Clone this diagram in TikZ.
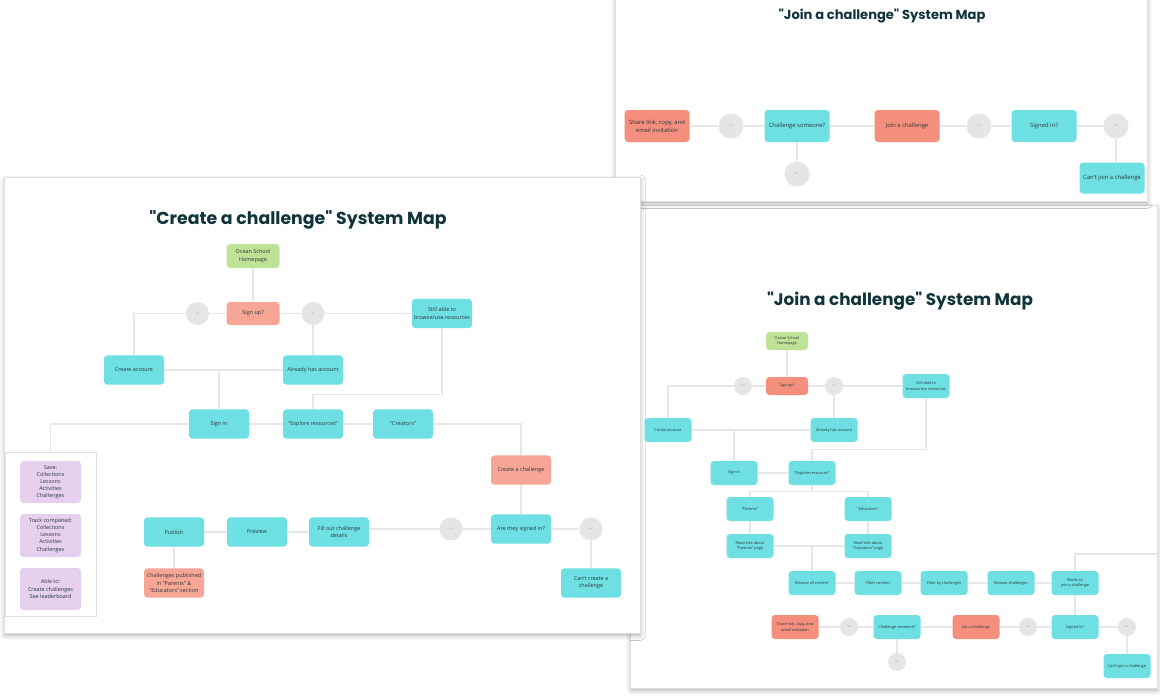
\documentclass[tikz,border=0pt]{standalone}
\usepackage{fontspec}
\setmainfont{Open Sans}
\newfontfamily\titlefont{Poppins}
\usetikzlibrary{shadows.blur}

\definecolor{tealbox}{RGB}{110,224,227}
\definecolor{salmonlt}{RGB}{247,166,150}
\definecolor{salmondk}{RGB}{245,143,125}
\definecolor{greenbox}{RGB}{190,227,150}
\definecolor{purplebox}{RGB}{230,208,238}
\definecolor{yesnogray}{RGB}{229,229,229}
\definecolor{yesnotext}{RGB}{150,150,150}
\definecolor{wireline}{RGB}{231,231,231}
\definecolor{cardline}{RGB}{222,222,222}
\definecolor{titleteal}{RGB}{16,52,60}
\definecolor{boxtext}{RGB}{40,55,60}

\newcommand\btxt{\fontsize{4.1}{5.4}\selectfont}
\newcommand\ctxt{\fontsize{2.9}{3.9}\selectfont}
\newcommand\atxt{\fontsize{4.4}{5.8}\selectfont}
\newcommand\yntxt{\fontsize{1.7}{2}\selectfont}

\pgfdeclarelayer{panels}
\pgfdeclarelayer{wires}
\pgfsetlayers{panels,wires,main}

\tikzset{
  card/.style={fill=white, draw=cardline, line width=0.5pt,
    blur shadow={shadow xshift=0.4pt, shadow yshift=-2pt, shadow blur radius=3.5pt, shadow opacity=30}},
  wire/.style={draw=wireline, line width=0.8pt},
  flowbox/.style={rounded corners=2.6pt, align=center, text=boxtext, inner sep=0.8pt},
  bnode/.style={flowbox, font=\btxt, minimum width=45pt, minimum height=22pt},
  cnode/.style={flowbox, font=\ctxt, minimum width=35.25pt, minimum height=18pt},
  anode/.style={flowbox, font=\atxt, minimum width=48.75pt, minimum height=24pt},
  yesno/.style={circle, fill=yesnogray, text=yesnotext, font=\yntxt, inner sep=0pt},
  maptitle/.style={text=titleteal, inner sep=0pt},
}

\begin{document}
\begin{tikzpicture}[x=0.75pt,y=0.75pt,yscale=-1,xscale=1]
\useasboundingbox (0,0) rectangle (1160,696);

% cards, back to front
\begin{pgfonlayer}{panels}
\draw[card] (630,205) rectangle (1157,688);
\draw[card] (615,-6) rectangle (1147,201);
\draw[card] (4,177) rectangle (640,633);
\end{pgfonlayer}

%%%%% "Create a challenge" map
\node[maptitle, font={\titlefont\bfseries\fontsize{13}{15}\selectfont}] (b-title) at (298,220) {"Create a challenge" System Map};

\node[bnode, fill=greenbox, minimum width=39.75pt, minimum height=18pt] (b-home) at (253,256) {Ocean School\\Homepage};
\node[bnode, fill=salmonlt, minimum width=39.75pt, minimum height=17.25pt] (b-signup) at (253,313.5) {Sign up?};
\node[yesno, minimum size=17.25pt] (b-yes) at (197.5,313.5) {Yes};
\node[yesno, minimum size=17.25pt] (b-no) at (313,313.5) {No};
\node[bnode, fill=tealbox] (b-still) at (442,313.5) {Still able to\\browse/use resources};
\node[bnode, fill=tealbox] (b-create) at (134,370) {Create account};
\node[bnode, fill=tealbox] (b-has) at (313,370) {Already has account};
\node[bnode, fill=tealbox] (b-signin) at (219,424) {Sign in};
\node[bnode, fill=tealbox] (b-explore) at (313,424) {"Explore resources"};
\node[bnode, fill=tealbox] (b-creators) at (403,424) {"Creators"};

% sidebar with account perks
\node[draw=cardline, line width=0.5pt, minimum width=68.25pt, minimum height=123pt, inner sep=0pt] (b-side) at (50.5,534) {};
\node[bnode, fill=purplebox, minimum width=45.75pt, minimum height=31.5pt, font={\fontsize{4.1}{5.3}\selectfont}] (b-save) at (50.5,482) {Save:\\Collections\\Lessons\\Activities\\Challenges};
\node[bnode, fill=purplebox, minimum width=45.75pt, minimum height=32.25pt, font={\fontsize{4.1}{5.3}\selectfont}] (b-track) at (50.5,535.5) {Track completed:\\Collections\\Lessons\\Activities\\Challenges};
\node[bnode, fill=purplebox, minimum width=45.75pt, minimum height=31.5pt, font={\fontsize{4.1}{5.3}\selectfont}] (b-able) at (50.5,589) {Able to:\\Create challenges\\See leaderboard};

\node[bnode, fill=salmonlt] (b-make) at (521,470) {Create a challenge};
\node[bnode, fill=tealbox] (b-signed) at (521,529) {Are they signed in?};
\node[yesno, minimum size=17.25pt] (b-yes2) at (451,529) {Yes};
\node[yesno, minimum size=17.25pt] (b-no2) at (591,529) {No};
\node[bnode, fill=tealbox] (b-cant) at (591,583) {Can't create a\\challenge};
\node[bnode, fill=tealbox] (b-fill) at (339,532) {Fill out challenge\\details};
\node[bnode, fill=tealbox] (b-preview) at (257,532) {Preview};
\node[bnode, fill=tealbox] (b-publish) at (174,532) {Publish};
\node[bnode, fill=salmonlt] (b-published) at (174,583) {Challenges published\\in "Parents" \&\\"Educators" section};

\begin{pgfonlayer}{wires}
\draw[wire] (b-home) -- (b-signup);
\draw[wire] (b-signup) -- (b-yes);
\draw[wire] (b-yes.west) -| (b-create.north);
\draw[wire] (b-signup) -- (b-no) -- (b-still);
\draw[wire] (b-no) -- (b-has);
\draw[wire] (b-create) -- (b-has);
\draw[wire] (b-signin.north) -- (b-signin.north |- b-create.east);
\draw[wire] (b-still.south) -- ++(0,66) -| (b-explore.north);
\draw[wire] (b-signin) -- (b-explore) -- (b-creators);
\draw[wire] (b-signin.west) -| (b-side.north);
\draw[wire] (b-creators.east) -| (b-make.north);
\draw[wire] (b-make) -- (b-signed);
\draw[wire] (b-signed) -- (b-yes2);
\draw[wire] (b-yes2) -- (b-yes2 -| b-fill.east);
\draw[wire] (b-signed) -- (b-no2) -- (b-cant);
\draw[wire] (b-fill) -- (b-preview) -- (b-publish);
\draw[wire] (b-publish) -- (b-published);
\end{pgfonlayer}

%%%%% "Join a challenge" map, full
\node[maptitle, font={\titlefont\bfseries\fontsize{12.6}{15}\selectfont}] (c-title) at (900,301) {"Join a challenge" System Map};

\node[cnode, fill=greenbox, minimum width=31.5pt, minimum height=13.5pt] (c-home) at (787,341) {Ocean School\\Homepage};
\node[cnode, fill=salmondk, minimum width=31.5pt, minimum height=13.5pt] (c-signup) at (787,386) {Sign up?};
\node[yesno, minimum size=13.5pt] (c-yes) at (743,386) {Yes};
\node[yesno, minimum size=13.5pt] (c-no) at (834,386) {No};
\node[cnode, fill=tealbox] (c-still) at (926,386) {Still able to\\browse/use resources};
\node[cnode, fill=tealbox] (c-create) at (668,430) {Create account};
\node[cnode, fill=tealbox] (c-has) at (834,430) {Already has account};
\node[cnode, fill=tealbox] (c-signin) at (734,473) {Sign in};
\node[cnode, fill=tealbox] (c-explore) at (812,473) {"Explore resources"};
\node[cnode, fill=tealbox] (c-parents) at (750,509) {"Parents"};
\node[cnode, fill=tealbox] (c-educators) at (868,509) {"Educators"};
\node[cnode, fill=tealbox] (c-readp) at (750,546) {Read info about\\"Parents" page};
\node[cnode, fill=tealbox] (c-reade) at (868,546) {Read info about\\"Educators" page};
\node[cnode, fill=tealbox] (c-browse) at (812,583) {Browse all content};
\node[cnode, fill=tealbox] (c-filter) at (878,583) {Filter content};
\node[cnode, fill=tealbox] (c-bychal) at (944,583) {Filter by challenges};
\node[cnode, fill=tealbox] (c-browsech) at (1011,583) {Browse challenges};
\node[cnode, fill=tealbox] (c-wants) at (1075,583) {Wants to\\join a challenge};
\node[cnode, fill=salmondk] (c-share) at (795,627) {Share link, copy, and\\email invitation};
\node[yesno, minimum size=13.5pt] (c-yes3) at (849,627) {Yes};
\node[cnode, fill=tealbox] (c-someone) at (897,627) {Challenge someone?};
\node[yesno, minimum size=13.5pt] (c-no3) at (897,662) {No};
\node[cnode, fill=salmondk] (c-join) at (976,627) {Join a challenge};
\node[yesno, minimum size=13.5pt] (c-yes4) at (1028,627) {Yes};
\node[cnode, fill=tealbox] (c-signed) at (1075,627) {Signed in?};
\node[yesno, minimum size=13.5pt] (c-no4) at (1127,627) {No};
\node[cnode, fill=tealbox] (c-cant) at (1127,666) {Can't join a challenge};
\coordinate (c-exit) at (1157,554);

\begin{pgfonlayer}{wires}
\draw[wire] (c-home) -- (c-signup);
\draw[wire] (c-signup) -- (c-yes);
\draw[wire] (c-yes.west) -| (c-create.north);
\draw[wire] (c-signup) -- (c-no) -- (c-still);
\draw[wire] (c-no) -- (c-has);
\draw[wire] (c-create) -- (c-has);
\draw[wire] (c-signin.north) -- (c-signin.north |- c-create.east);
\draw[wire] (c-still.south) -- ++(0,51.5) -| (c-explore.north);
\draw[wire] (c-signin) -- (c-explore);
\draw[wire] (c-explore.south) -- ++(0,6) coordinate (c-split);
\draw[wire] (c-parents.north) |- (c-split) -| (c-educators.north);
\draw[wire] (c-parents) -- (c-readp);
\draw[wire] (c-educators) -- (c-reade);
\draw[wire] (c-readp) -- (c-reade);
\draw[wire] (c-browse.north) -- (c-browse.north |- c-readp.east);
\draw[wire] (c-browse) -- (c-filter) -- (c-bychal) -- (c-browsech) -- (c-wants);
\draw[wire] (c-wants.north) |- (c-exit);
\draw[wire] (c-wants) -- (c-signed);
\draw[wire] (c-signed) -- (c-yes4) -- (c-join) -- (c-someone) -- (c-yes3) -- (c-share);
\draw[wire] (c-someone) -- (c-no3);
\draw[wire] (c-signed) -- (c-no4) -- (c-cant);
\end{pgfonlayer}

%%%%% "Join a challenge" map, short
\node[maptitle, font={\titlefont\bfseries\fontsize{9.8}{12}\selectfont}] (a-title) at (882,16) {"Join a challenge" System Map};

\node[anode, fill=salmondk] (a-share) at (657,126) {Share link, copy, and\\email invitation};
\node[yesno, minimum size=18.75pt] (a-yes) at (731,126) {Yes};
\node[anode, fill=tealbox] (a-someone) at (797,126) {Challenge someone?};
\node[yesno, minimum size=18.75pt] (a-no) at (797,174) {No};
\node[anode, fill=salmondk] (a-join) at (907,126) {Join a challenge};
\node[yesno, minimum size=18.75pt] (a-yes2) at (979,126) {Yes};
\node[anode, fill=tealbox] (a-signed) at (1044,126) {Signed in?};
\node[yesno, minimum size=18.75pt] (a-no2) at (1116,126) {No};
\node[anode, fill=tealbox, minimum height=23.25pt] (a-cant) at (1112,178) {Can't join a challenge};

\begin{pgfonlayer}{wires}
\draw[wire] (a-share) -- (a-yes) -- (a-someone) -- (a-join) -- (a-yes2) -- (a-signed) -- (a-no2);
\draw[wire] (a-someone) -- (a-no);
\draw[wire] (a-no2) -- (a-no2 |- a-cant.north);
\end{pgfonlayer}

\end{tikzpicture}
\end{document}
